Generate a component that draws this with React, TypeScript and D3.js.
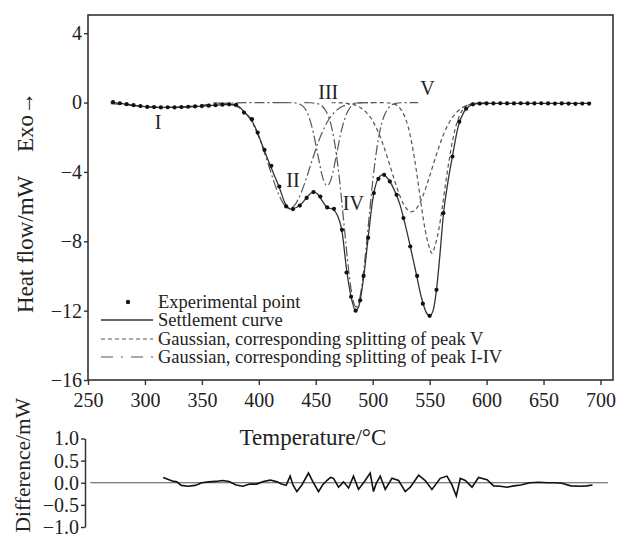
import { useEffect, useRef } from "react";
import * as d3 from "d3";

const W = 618;
const H = 539;

// experimental points: temperature (°C) / heat flow (mW)
const expT = [272, 278, 284, 290, 296, 302, 308, 314, 320, 326, 332, 338, 344, 350, 356, 362, 368, 374, 380, 387, 394, 399, 405, 411, 418, 424, 430, 436, 442, 448, 454, 460, 466, 473, 477, 481, 485, 489, 492, 496, 501, 505, 510, 515, 521, 527, 533, 539, 544, 550, 556, 562, 570, 576, 582, 588, 594, 600, 606, 612, 618, 624, 630, 636, 642, 648, 654, 660, 666, 672, 678, 684, 690];
const expV = [0.02, -0.04, -0.09, -0.15, -0.2, -0.25, -0.26, -0.28, -0.27, -0.28, -0.26, -0.24, -0.22, -0.2, -0.18, -0.15, -0.12, -0.1, -0.13, -0.58, -0.96, -1.73, -2.73, -3.65, -4.84, -5.99, -6.14, -5.94, -5.5, -5.16, -5.42, -6.05, -6.13, -7.34, -9.8, -11.2, -12.0, -11.4, -10.0, -7.8, -5.22, -4.4, -4.17, -4.55, -5.32, -6.66, -8.3, -10.0, -11.6, -12.3, -10.8, -6.38, -3.11, -1.1, -0.35, -0.1, -0.06, -0.05, -0.05, -0.04, -0.05, -0.05, -0.04, -0.05, -0.05, -0.04, -0.05, -0.06, -0.05, -0.06, -0.07, -0.06, -0.06];

// settlement (fitted) curve
const fitT = [270, 276, 282, 290, 300, 310, 320, 330, 340, 350, 360, 370, 378, 383, 388, 393, 398, 403, 408, 413, 418, 423, 428, 433, 438, 443, 448, 452, 456, 460, 465, 469, 473, 477, 481, 485, 488, 492, 496, 500, 504, 509, 514, 519, 524, 528, 533, 538, 543, 547, 550, 553, 556, 559, 562, 566, 570, 575, 580, 585, 590, 600, 690];
const fitV = [0.02, -0.03, -0.08, -0.15, -0.23, -0.27, -0.28, -0.27, -0.24, -0.2, -0.16, -0.12, -0.12, -0.25, -0.6, -0.95, -1.6, -2.45, -3.3, -4.1, -4.9, -5.8, -6.15, -6.05, -5.8, -5.4, -5.15, -5.3, -5.7, -6.05, -6.15, -6.5, -7.4, -9.6, -11.2, -12.0, -11.7, -10.1, -7.8, -5.6, -4.5, -4.15, -4.45, -5.05, -5.9, -6.9, -8.3, -9.8, -11.3, -12.1, -12.3, -12.0, -10.8, -8.8, -6.5, -4.6, -3.1, -1.4, -0.55, -0.2, -0.08, -0.05, -0.05];

// gaussian splitting of peaks I-IV  [T, mW]
const peakI = [[270, -0.06], [285, -0.14], [300, -0.23], [318, -0.28], [336, -0.23], [351, -0.14], [366, -0.06], [380, -0.02], [400, 0], [420, 0]];
const peakII = [[360, -0.01], [372, -0.06], [377, -0.13], [382, -0.27], [387, -0.52], [392, -0.92], [397, -1.52], [402, -2.32], [407, -3.29], [412, -4.31], [417, -5.23], [422, -5.87], [427, -6.1], [432, -5.87], [437, -5.23], [442, -4.31], [447, -3.29], [452, -2.32], [457, -1.52], [462, -0.92], [467, -0.52], [472, -0.27], [477, -0.13], [482, -0.06], [490, -0.01], [500, 0]];
const peakIII = [[420, 0], [432, -0.02], [436, -0.09], [440, -0.3], [444, -0.82], [448, -1.77], [452, -3.08], [456, -4.3], [460, -4.8], [464, -4.3], [468, -3.08], [472, -1.77], [476, -0.82], [480, -0.3], [484, -0.09], [488, -0.02], [500, 0]];
const peakIV = [[440, 0], [445.5, -0.01], [451.5, -0.06], [455.5, -0.2], [458.5, -0.44], [461.5, -0.86], [464.5, -1.59], [467.5, -2.71], [470.5, -4.25], [473.5, -6.15], [476.5, -8.18], [479.5, -10.02], [482.5, -11.33], [485.5, -11.8], [488.5, -11.33], [491.5, -10.02], [494.5, -8.18], [497.5, -6.15], [500.5, -4.25], [503.5, -2.71], [506.5, -1.59], [509.5, -0.86], [512.5, -0.44], [515.5, -0.2], [519.5, -0.06], [525.5, -0.01], [540, 0]];

// gaussian splitting of peak V
const peakVa = [[464, -0.01], [474, -0.02], [479, -0.06], [484, -0.13], [489, -0.28], [494, -0.54], [499, -0.95], [504, -1.57], [509, -2.4], [514, -3.4], [519, -4.45], [524, -5.4], [529, -6.06], [534, -6.3], [539, -6.06], [544, -5.4], [549, -4.45], [554, -3.4], [559, -2.4], [564, -1.57], [569, -0.95], [574, -0.54], [579, -0.28], [584, -0.13], [589, -0.06], [594, -0.02], [600, -0.01]];
const peakVb = [[500, 0], [512, -0.01], [518, -0.07], [522, -0.2], [525, -0.42], [528, -0.79], [531, -1.37], [534, -2.23], [537, -3.36], [540, -4.68], [543, -6.09], [546, -7.33], [549, -8.19], [552, -8.7], [555, -8.19], [558, -7.33], [561, -6.09], [564, -4.68], [567, -3.36], [570, -2.23], [573, -1.37], [576, -0.79], [579, -0.42], [582, -0.2], [586, -0.07], [592, -0.01], [600, 0]];

// difference (experimental - fitted)
const diffT = [316, 320, 324, 328, 332, 338, 344, 350, 356, 362, 368, 374, 380, 386, 392, 398, 404, 410, 416, 420, 424, 427.5, 430, 433.4, 437.8, 443.6, 448, 452.4, 456, 459.7, 463, 465.6, 470, 474.4, 478.8, 483.1, 487.5, 493.4, 497.8, 500.7, 503, 506.6, 511, 516.9, 522.7, 528.6, 533, 540.3, 546.1, 552, 559.3, 565.2, 569.6, 573.4, 576.9, 581.3, 587.2, 592.9, 600.4, 606.2, 612, 618, 624, 630, 638, 646, 653, 660, 666, 674, 682, 688, 693];
const diffV = [0.12, 0.08, 0.04, 0.02, -0.06, -0.08, -0.06, 0.0, 0.02, 0.03, 0.05, 0.03, -0.05, -0.08, -0.03, -0.03, 0.03, 0.06, 0.02, -0.03, -0.06, 0.15, -0.05, -0.2, -0.05, 0.22, 0.0, -0.2, -0.05, 0.05, 0.12, 0.1, -0.1, 0.02, -0.12, 0.15, -0.15, 0.05, 0.22, -0.2, -0.02, 0.15, -0.15, 0.1, 0.05, -0.2, -0.1, 0.17, 0.05, -0.15, 0.1, 0.15, -0.05, -0.3, 0.1, 0.05, -0.1, 0.12, 0.07, -0.07, -0.08, -0.1, -0.07, -0.05, 0.0, 0.01, 0.0, 0.0, -0.01, -0.07, -0.08, -0.07, -0.05];

const xTicks = [250, 300, 350, 400, 450, 500, 550, 600, 650, 700];
const yTicks = [4, 0, -4, -8, -12, -16];
const dTicks = [1, 0.5, 0, -0.5, -1];

const peakNames = ["I", "II", "III", "IV", "V"];
const peakNameT = [311.5, 430, 461, 483, 548];
const peakNameV = [-1.1, -4.45, 0.62, -5.78, 0.85];

const legendLabels = [
  "Experimental point",
  "Settlement curve",
  "Gaussian, corresponding splitting of peak V",
  "Gaussian, corresponding splitting of peak I-IV",
];

export default function App() {
  const ref = useRef<SVGSVGElement>(null);

  useEffect(() => {
    const svg = d3.select(ref.current);
    svg.selectAll("*").remove();
    const font = '"Liberation Serif", "Times New Roman", serif';
    const ink = "#222";

    const x = d3.scaleLinear().domain([250, 711]).range([88, 613]);
    const y = d3.scaleLinear().domain([-16, 5.05]).range([380, 15]);
    const yd = d3.scaleLinear().domain([-1, 1]).range([527, 438.5]);

    const line = d3
      .line<number[]>()
      .x((d) => x(d[0]))
      .y((d) => y(d[1]))
      .curve(d3.curveMonotoneX);

    // gaussian components
    [peakI, peakII, peakIII, peakIV].forEach((c) => {
      svg
        .append("path")
        .attr("d", line(c))
        .attr("fill", "none")
        .attr("stroke", "#555")
        .attr("stroke-width", 1.2)
        .attr("stroke-dasharray", "10,3,2,3");
    });
    [peakVa, peakVb].forEach((c) => {
      svg
        .append("path")
        .attr("d", line(c))
        .attr("fill", "none")
        .attr("stroke", "#555")
        .attr("stroke-width", 1.2)
        .attr("stroke-dasharray", "4,3");
    });

    // settlement curve
    const fit = fitT.map((t, i) => [t, fitV[i]]);
    svg
      .append("path")
      .attr("d", line(fit))
      .attr("fill", "none")
      .attr("stroke", "#333")
      .attr("stroke-width", 1.3);

    // experimental points
    svg
      .append("g")
      .selectAll("circle")
      .data(expT)
      .enter()
      .append("circle")
      .attr("cx", (d) => x(d))
      .attr("cy", (d, i) => y(expV[i]))
      .attr("r", 2.1)
      .attr("fill", "#111");

    // frame
    svg
      .append("rect")
      .attr("x", x(250))
      .attr("y", y(5.05))
      .attr("width", x(711) - x(250))
      .attr("height", y(-16) - y(5.05))
      .attr("fill", "none")
      .attr("stroke", "#333")
      .attr("stroke-width", 1.6);

    // x axis
    const gx = svg
      .append("g")
      .attr("transform", "translate(0," + y(-16) + ")")
      .call(d3.axisBottom(x).tickValues(xTicks).tickSize(5).tickSizeOuter(0).tickPadding(8));
    gx.select(".domain").remove();
    gx.selectAll("line").attr("stroke", "#333").attr("stroke-width", 1.4);
    gx.selectAll("text").attr("font-family", font).attr("font-size", 20).attr("fill", ink);

    // y axis
    const gy = svg
      .append("g")
      .attr("transform", "translate(" + x(250) + ",0)")
      .call(d3.axisLeft(y).tickValues(yTicks).tickSize(4).tickSizeOuter(0).tickPadding(2).tickFormat(d3.format("d")));
    gy.select(".domain").remove();
    gy.selectAll("line").attr("stroke", "#333").attr("stroke-width", 1.4);
    gy.selectAll("text").attr("font-family", font).attr("font-size", 20).attr("fill", ink);

    // peak names
    peakNames.forEach((n, i) => {
      svg
        .append("text")
        .attr("x", x(peakNameT[i]))
        .attr("y", y(peakNameV[i]) + 7)
        .attr("text-anchor", "middle")
        .attr("font-family", font)
        .attr("font-size", 20)
        .attr("fill", ink)
        .text(n);
    });

    // legend
    const lg = svg.append("g").attr("font-family", font).attr("font-size", 18.5).attr("fill", ink);
    const rowY = [302, 320, 339, 357];
    lg.append("circle").attr("cx", 128).attr("cy", rowY[0]).attr("r", 2.2).attr("fill", "#111");
    lg.append("line").attr("x1", 101).attr("x2", 153).attr("y1", rowY[1]).attr("y2", rowY[1]).attr("stroke", "#333").attr("stroke-width", 1.3);
    lg.append("line").attr("x1", 101).attr("x2", 153).attr("y1", rowY[2]).attr("y2", rowY[2]).attr("stroke", "#555").attr("stroke-width", 1.2).attr("stroke-dasharray", "4,3");
    lg.append("line").attr("x1", 101).attr("x2", 153).attr("y1", rowY[3]).attr("y2", rowY[3]).attr("stroke", "#555").attr("stroke-width", 1.2).attr("stroke-dasharray", "12,8,2,8");
    legendLabels.forEach((t, i) => {
      lg.append("text").attr("x", 158).attr("y", [308, 326, 345, 363][i]).text(t);
    });

    // axis titles
    svg
      .append("text")
      .attr("x", 313)
      .attr("y", 445)
      .attr("text-anchor", "middle")
      .attr("font-family", font)
      .attr("font-size", 23)
      .attr("fill", ink)
      .text("Temperature/°C");
    svg
      .append("text")
      .attr("transform", "translate(33,313) rotate(-90)")
      .attr("font-family", font)
      .attr("font-size", 23)
      .attr("fill", ink)
      .text("Heat flow/mW");
    svg
      .append("text")
      .attr("transform", "translate(33,152) rotate(-90)")
      .attr("font-family", font)
      .attr("font-size", 23)
      .attr("fill", ink)
      .text("Exo→");

    // difference panel
    svg
      .append("line")
      .attr("x1", x(252))
      .attr("x2", x(706.5))
      .attr("y1", yd(0))
      .attr("y2", yd(0))
      .attr("stroke", "#555")
      .attr("stroke-width", 1.2);
    const dline = d3
      .line<number>()
      .x((d) => x(d))
      .y((d, i) => yd(diffV[i]));
    svg
      .append("path")
      .attr("d", dline(diffT))
      .attr("fill", "none")
      .attr("stroke", "#111")
      .attr("stroke-width", 1.6);
    const gd = svg
      .append("g")
      .attr("transform", "translate(85,0)")
      .call(d3.axisLeft(yd).tickValues(dTicks).tickSize(4).tickSizeOuter(0).tickPadding(2).tickFormat(d3.format(".1f")));
    gd.select(".domain").attr("stroke", "#333").attr("stroke-width", 1.5);
    gd.selectAll("line").attr("stroke", "#333").attr("stroke-width", 1.4);
    gd.selectAll("text").attr("font-family", font).attr("font-size", 20).attr("fill", ink);
    svg
      .append("text")
      .attr("transform", "translate(30,398) rotate(-90)")
      .attr("text-anchor", "end")
      .attr("font-family", font)
      .attr("font-size", 21.5)
      .attr("fill", ink)
      .text("Difference/mW");
  }, []);

  return (
    <svg
      ref={ref}
      width={W}
      height={H}
      style={{ position: "absolute", left: 0, top: 0, background: "#fff" }}
    />
  );
}
